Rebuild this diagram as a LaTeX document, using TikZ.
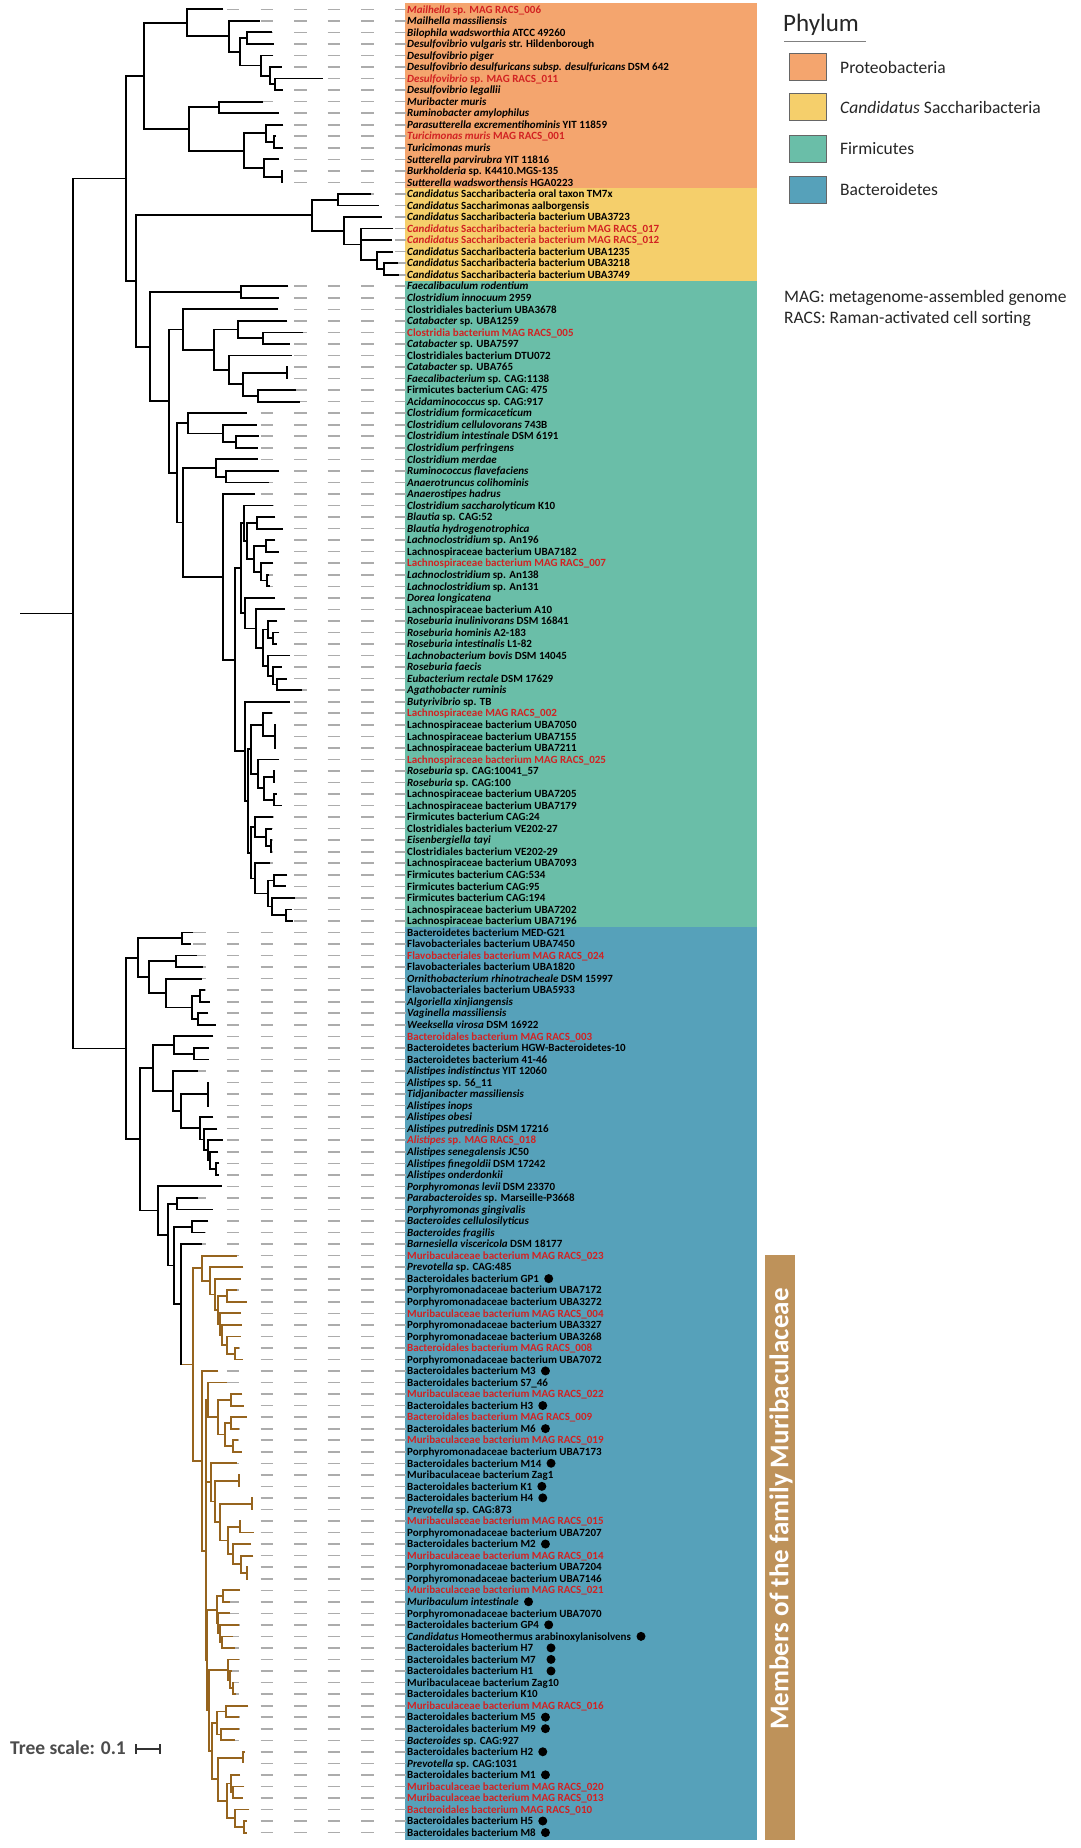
\documentclass[tikz,border=0pt]{standalone}
\usepackage{fontspec}
\setmainfont{Carlito}
\usetikzlibrary{calc}
\definecolor{orangeC}{RGB}{244,165,110}
\definecolor{yellowC}{RGB}{245,207,107}
\definecolor{greenC}{RGB}{106,190,168}
\definecolor{blueC}{RGB}{86,161,186}
\definecolor{barC}{RGB}{190,146,90}
\definecolor{brownBr}{RGB}{150,100,30}
\definecolor{labred}{RGB}{210,34,34}
\definecolor{dashgray}{RGB}{172,172,172}
\newcommand\gi[1]{\textit{#1}}
\newcommand\rd[1]{\textcolor{labred}{#1}}
\def\brc{black}
\tikzset{
  lab/.style={anchor=base west, inner sep=0pt, font=\fontsize{11}{12}\selectfont\bfseries, text=black},
  dsh/.style={draw=dashgray, line width=1.6pt, dash pattern=on 12.5pt off 21.1pt},
  br/.style={line width=1.8pt, draw=\brc, line join=miter},
  legtxt/.style={anchor=west, inner sep=0pt, font=\fontsize{17.5}{20}\selectfont, text=black!85}
}
\newcommand\leaf[3]{%
  \pgfmathsetmacro\yy{9.3+(#1-1)*11.54}%
  \coordinate (L#1) at (#2,\yy);%
  \pgfmathsetmacro\ph{mod(#2-193.3+336,33.6)}%
  \draw[dsh, dash phase=\ph pt] (L#1) -- (406,\yy);%
  \node[lab] (T#1) at (407,\yy+3.7) {#3};%
}
\newcommand\clade[4]{%
  \path let \p1=($(#3)!0.5!(#4)$) in coordinate (#1) at (#2pt,\y1);%
  \draw[br] (#3) -- (#1|-#3) -- (#1|-#4) -- (#4);%
}
\newcommand\cladeT[5]{%
  \path let \p1=($(#3)!0.5!(#5)$) in coordinate (#1) at (#2pt,\y1);%
  \draw[br] (#3) -- (#1|-#3) -- (#1|-#5) -- (#5);%
  \draw[br] (#1|-#4) -- (#4);%
}
\newcommand\dotT[1]{\fill ($(T#1.base east)+(9.5,-3.8)$) circle (4.5);}
\newcommand\dotX[2]{\fill let \p1=(T#1.base east) in (#2pt,\y1+3.8pt) circle (4.5);}
\begin{document}
\begin{tikzpicture}[x=1pt,y=-1pt]
\useasboundingbox (0,0) rectangle (1080,1848);
\fill[white] (0,0) rectangle (1080,1848);
% background bands
\fill[orangeC] (405,3) rectangle (757,188);
\fill[yellowC] (405,188) rectangle (757,280.5);
\fill[greenC] (405,280.5) rectangle (757,927);
\fill[blueC] (405,927) rectangle (757,1840);
\fill[barC] (765,1255) rectangle (795,1840);
\node[rotate=90, text=white, font=\fontsize{27}{30}\selectfont\bfseries, inner sep=0pt] (mtxt) at (781,1509) {Members of the family Muribaculaceae};
% legend
\node[anchor=west, inner sep=0pt, font=\fontsize{25}{28}\selectfont, text=black!85] (phy) at (783,25) {Phylum};
\draw[gray, line width=1.2pt] (784,41.5) -- (866,41.5);
\draw[fill=orangeC, draw=black!60, line width=1pt] (789,53) rectangle (826,80);
\draw[fill=yellowC, draw=black!60, line width=1pt] (789,93.5) rectangle (826,120.5);
\draw[fill=greenC, draw=black!60, line width=1pt] (789,135) rectangle (826,162);
\draw[fill=blueC, draw=black!60, line width=1pt] (789,176) rectangle (826,203);
\node[legtxt] (lg1) at (840,67) {Proteobacteria};
\node[legtxt] (lg2) at (840,107) {\textit{Candidatus} Saccharibacteria};
\node[legtxt] (lg3) at (840,148.5) {Firmicutes};
\node[legtxt] (lg4) at (840,189.5) {Bacteroidetes};
\node[legtxt] (mag) at (784,298) {MAG: metagenome-assembled genome};
\node[legtxt] (racs) at (784,318.5) {RACS: Raman-activated cell sorting};
% tree scale
\node[anchor=west, inner sep=0pt, font=\fontsize{19.5}{22}\selectfont\bfseries, text=black!70] (ts) at (10,1748) {Tree scale: 0.1};
\coordinate (sb1) at (136,1749);
\coordinate (sb2) at (160,1749);
\draw[line width=1.8pt, black!80] (sb1) -- (sb2);
\draw[line width=1.8pt, black!80] ($(sb1)+(0,-5)$) -- ($(sb1)+(0,5)$);
\draw[line width=1.8pt, black!80] ($(sb2)+(0,-5)$) -- ($(sb2)+(0,5)$);
% ---------------- leaves ----------------
\leaf{1}{223.3}{\rd{\gi{Mailhella} sp. MAG RACS\_006}}
\leaf{2}{260}{\gi{Mailhella massiliensis}}
\leaf{3}{271.7}{\gi{Bilophila wadsworthia} ATCC 49260}
\leaf{4}{274}{\gi{Desulfovibrio vulgaris} str. Hildenborough}
\leaf{5}{273.3}{\gi{Desulfovibrio piger}}
\leaf{6}{281.7}{\gi{Desulfovibrio desulfuricans subsp. desulfuricans} DSM 642}
\leaf{7}{322.7}{\rd{\gi{Desulfovibrio} sp. MAG RACS\_011}}
\leaf{8}{282.7}{\gi{Desulfovibrio legallii}}
\leaf{9}{263.3}{\gi{Muribacter muris}}
\leaf{10}{279.3}{\gi{Ruminobacter amylophilus}}
\leaf{11}{283.3}{\gi{Parasutterella excrementihominis} YIT 11859}
\leaf{12}{276}{\rd{\gi{Turicimonas muris} MAG RACS\_001}}
\leaf{13}{283.3}{\gi{Turicimonas muris}}
\leaf{14}{279.3}{\gi{Sutterella parvirubra} YIT 11816}
\leaf{15}{282.5}{\gi{Burkholderia} sp. K4410.MGS-135}
\leaf{16}{282.5}{\gi{Sutterella wadsworthensis} HGA0223}
\leaf{17}{371}{\gi{Candidatus} Saccharibacteria oral taxon TM7x}
\leaf{18}{379.3}{\gi{Candidatus} Saccharimonas aalborgensis}
\leaf{19}{381.7}{\gi{Candidatus} Saccharibacteria bacterium UBA3723}
\leaf{20}{393.3}{\rd{\gi{Candidatus} Saccharibacteria bacterium MAG RACS\_017}}
\leaf{21}{391.7}{\rd{\gi{Candidatus} Saccharibacteria bacterium MAG RACS\_012}}
\leaf{22}{393.3}{\gi{Candidatus} Saccharibacteria bacterium UBA1235}
\leaf{23}{398}{\gi{Candidatus} Saccharibacteria bacterium UBA3218}
\leaf{24}{399}{\gi{Candidatus} Saccharibacteria bacterium UBA3749}
\leaf{25}{288.3}{\gi{Faecalibaculum rodentium}}
\leaf{26}{279.3}{\gi{Clostridium innocuum} 2959}
\leaf{27}{278.3}{Clostridiales bacterium UBA3678}
\leaf{28}{287.3}{\gi{Catabacter} sp. UBA1259}
\leaf{29}{303.3}{\rd{Clostridia bacterium MAG RACS\_005}}
\leaf{30}{290}{\gi{Catabacter} sp. UBA7597}
\leaf{31}{291.7}{Clostridiales bacterium DTU072}
\leaf{32}{287.7}{\gi{Catabacter} sp. UBA765}
\leaf{33}{287.7}{\gi{Faecalibacterium} sp. CAG:1138}
\leaf{34}{296}{Firmicutes bacterium CAG: 475}
\leaf{35}{300}{\gi{Acidaminococcus} sp. CAG:917}
\leaf{36}{246.7}{\gi{Clostridium formicaceticum}}
\leaf{37}{256.7}{\gi{Clostridium cellulovorans} 743B}
\leaf{38}{259}{\gi{Clostridium intestinale} DSM 6191}
\leaf{39}{257.7}{\gi{Clostridium perfringens}}
\leaf{40}{257.7}{\gi{Clostridium merdae}}
\leaf{41}{279.3}{\gi{Ruminococcus flavefaciens}}
\leaf{42}{269.3}{\gi{Anaerotruncus colihominis}}
\leaf{43}{255}{\gi{Anaerostipes hadrus}}
\leaf{44}{272.7}{\gi{Clostridium saccharolyticum} K10}
\leaf{45}{275.3}{\gi{Blautia} sp. CAG:52}
\leaf{46}{282.7}{\gi{Blautia hydrogenotrophica}}
\leaf{47}{275.3}{\gi{Lachnoclostridium} sp. An196}
\leaf{48}{279.3}{Lachnospiraceae bacterium UBA7182}
\leaf{49}{273.3}{\rd{Lachnospiraceae bacterium MAG RACS\_007}}
\leaf{50}{269.3}{\gi{Lachnoclostridium} sp. An138}
\leaf{51}{270}{\gi{Lachnoclostridium} sp. An131}
\leaf{52}{275}{\gi{Dorea longicatena}}
\leaf{53}{285}{Lachnospiraceae bacterium A10}
\leaf{54}{277.3}{\gi{Roseburia inulinivorans} DSM 16841}
\leaf{55}{279.3}{\gi{Roseburia hominis} A2-183}
\leaf{56}{276.7}{\gi{Roseburia intestinalis} L1-82}
\leaf{57}{290}{\gi{Lachnobacterium bovis} DSM 14045}
\leaf{58}{281.7}{\gi{Roseburia faecis}}
\leaf{59}{286.7}{\gi{Eubacterium rectale} DSM 17629}
\leaf{60}{301.7}{\gi{Agathobacter ruminis}}
\leaf{61}{290}{\gi{Butyrivibrio} sp. TB}
\leaf{62}{271.7}{\rd{Lachnospiraceae MAG RACS\_002}}
\leaf{63}{276}{Lachnospiraceae bacterium UBA7050}
\leaf{64}{276}{Lachnospiraceae bacterium UBA7155}
\leaf{65}{276}{Lachnospiraceae bacterium UBA7211}
\leaf{66}{279.3}{\rd{Lachnospiraceae bacterium MAG RACS\_025}}
\leaf{67}{275}{\gi{Roseburia} sp. CAG:10041\_57}
\leaf{68}{275}{\gi{Roseburia} sp. CAG:100}
\leaf{69}{276.7}{Lachnospiraceae bacterium UBA7205}
\leaf{70}{281.7}{Lachnospiraceae bacterium UBA7179}
\leaf{71}{272.7}{Firmicutes bacterium CAG:24}
\leaf{72}{271.7}{Clostridiales bacterium VE202-27}
\leaf{73}{271.5}{\gi{Eisenbergiella tayi}}
\leaf{74}{271.5}{Clostridiales bacterium VE202-29}
\leaf{75}{270}{Lachnospiraceae bacterium UBA7093}
\leaf{76}{287.3}{Firmicutes bacterium CAG:534}
\leaf{77}{286}{Firmicutes bacterium CAG:95}
\leaf{78}{295}{Firmicutes bacterium CAG:194}
\leaf{79}{291.7}{Lachnospiraceae bacterium UBA7202}
\leaf{80}{293.3}{Lachnospiraceae bacterium UBA7196}
\leaf{81}{193.3}{Bacteroidetes bacterium MED-G21}
\leaf{82}{191}{Flavobacteriales bacterium UBA7450}
\leaf{83}{196.7}{\rd{Flavobacteriales bacterium MAG RACS\_024}}
\leaf{84}{203.3}{Flavobacteriales bacterium UBA1820}
\leaf{85}{201.7}{\gi{Ornithobacterium rhinotracheale} DSM 15997}
\leaf{86}{205}{Flavobacteriales bacterium UBA5933}
\leaf{87}{210}{\gi{Algoriella xinjiangensis}}
\leaf{88}{208.3}{\gi{Vaginella massiliensis}}
\leaf{89}{216}{\gi{Weeksella virosa} DSM 16922}
\leaf{90}{213.3}{\rd{Bacteroidales bacterium MAG RACS\_003}}
\leaf{91}{208.7}{Bacteroidetes bacterium HGW-Bacteroidetes-10}
\leaf{92}{208.7}{Bacteroidetes bacterium 41-46}
\leaf{93}{197.7}{\gi{Alistipes indistinctus} YIT 12060}
\leaf{94}{209}{\gi{Alistipes} sp. 56\_11}
\leaf{95}{209}{\gi{Tidjanibacter massiliensis}}
\leaf{96}{209}{\gi{Alistipes inops}}
\leaf{97}{213.3}{\gi{Alistipes obesi}}
\leaf{98}{217.3}{\gi{Alistipes putredinis} DSM 17216}
\leaf{99}{222.7}{\rd{\gi{Alistipes} sp. MAG RACS\_018}}
\leaf{100}{218.3}{\gi{Alistipes senegalensis} JC50}
\leaf{101}{219.3}{\gi{Alistipes finegoldii} DSM 17242}
\leaf{102}{219.3}{\gi{Alistipes onderdonkii}}
\leaf{103}{221.7}{\gi{Porphyromonas levii} DSM 23370}
\leaf{104}{198.3}{\gi{Parabacteroides} sp. Marseille-P3668}
\leaf{105}{213.3}{\gi{Porphyromonas gingivalis}}
\leaf{106}{208.3}{\gi{Bacteroides cellulosilyticus}}
\leaf{107}{205}{\gi{Bacteroides fragilis}}
\leaf{108}{201.7}{\gi{Barnesiella viscericola} DSM 18177}
\leaf{109}{236.7}{\rd{Muribaculaceae bacterium MAG RACS\_023}}
\leaf{110}{243.3}{\gi{Prevotella} sp. CAG:485}
\leaf{111}{240.7}{Bacteroidales bacterium GP1}
\leaf{112}{236.7}{Porphyromonadaceae bacterium UBA7172}
\leaf{113}{246.7}{Porphyromonadaceae bacterium UBA3272}
\leaf{114}{240.7}{\rd{Muribaculaceae bacterium MAG RACS\_004}}
\leaf{115}{241.7}{Porphyromonadaceae bacterium UBA3327}
\leaf{116}{240.7}{Porphyromonadaceae bacterium UBA3268}
\leaf{117}{239.3}{\rd{Bacteroidales bacterium MAG RACS\_008}}
\leaf{118}{243.3}{Porphyromonadaceae bacterium UBA7072}
\leaf{119}{218.3}{Bacteroidales bacterium M3}
\leaf{120}{226.7}{Bacteroidales bacterium S7\_46}
\leaf{121}{242.3}{\rd{Muribaculaceae bacterium MAG RACS\_022}}
\leaf{122}{244.3}{Bacteroidales bacterium H3}
\leaf{123}{246.7}{\rd{Bacteroidales bacterium MAG RACS\_009}}
\leaf{124}{239.3}{Bacteroidales bacterium M6}
\leaf{125}{238.3}{\rd{Muribaculaceae bacterium MAG RACS\_019}}
\leaf{126}{242.3}{Porphyromonadaceae bacterium UBA7173}
\leaf{127}{236.7}{Bacteroidales bacterium M14}
\leaf{128}{239.3}{Muribaculaceae bacterium Zag1}
\leaf{129}{239.3}{Bacteroidales bacterium K1}
\leaf{130}{252.3}{Bacteroidales bacterium H4}
\leaf{131}{252.3}{\gi{Prevotella} sp. CAG:873}
\leaf{132}{240.7}{\rd{Muribaculaceae bacterium MAG RACS\_015}}
\leaf{133}{254}{Porphyromonadaceae bacterium UBA7207}
\leaf{134}{251}{Bacteroidales bacterium M2}
\leaf{135}{253.3}{\rd{Muribaculaceae bacterium MAG RACS\_014}}
\leaf{136}{248}{Porphyromonadaceae bacterium UBA7204}
\leaf{137}{248}{Porphyromonadaceae bacterium UBA7146}
\leaf{138}{240}{\rd{Muribaculaceae bacterium MAG RACS\_021}}
\leaf{139}{230}{\gi{Muribaculum intestinale}}
\leaf{140}{230}{Porphyromonadaceae bacterium UBA7070}
\leaf{141}{239.3}{Bacteroidales bacterium GP4}
\leaf{142}{233.3}{\gi{Candidatus} Homeothermus arabinoxylanisolvens}
\leaf{143}{235}{Bacteroidales bacterium H7}
\leaf{144}{239.3}{Bacteroidales bacterium M7}
\leaf{145}{232}{Bacteroidales bacterium H1}
\leaf{146}{234}{Muribaculaceae bacterium Zag10}
\leaf{147}{236}{Bacteroidales bacterium K10}
\leaf{148}{248.3}{\rd{Muribaculaceae bacterium MAG RACS\_016}}
\leaf{149}{239.3}{Bacteroidales bacterium M5}
\leaf{150}{239.3}{Bacteroidales bacterium M9}
\leaf{151}{235}{\gi{Bacteroides} sp. CAG:927}
\leaf{152}{245}{Bacteroidales bacterium H2}
\leaf{153}{243.3}{\gi{Prevotella} sp. CAG:1031}
\leaf{154}{240}{Bacteroidales bacterium M1}
\leaf{155}{244.3}{\rd{Muribaculaceae bacterium MAG RACS\_020}}
\leaf{156}{243.3}{\rd{Muribaculaceae bacterium MAG RACS\_013}}
\leaf{157}{249.3}{\rd{Bacteroidales bacterium MAG RACS\_010}}
\leaf{158}{246.7}{Bacteroidales bacterium H5}
\leaf{159}{246.7}{Bacteroidales bacterium M8}
% dots
\dotT{111}\dotT{119}\dotT{122}\dotT{124}\dotT{127}\dotT{129}\dotT{130}
\dotT{134}\dotT{139}\dotT{141}\dotT{149}\dotT{150}\dotT{152}\dotT{154}
\dotT{158}\dotT{159}
\dotX{142}{641}\dotX{143}{551}\dotX{144}{551}\dotX{145}{551}
% ---------------- Proteobacteria ----------------
\clade{A5}{275.3}{L7}{L8}
\clade{A4}{270}{L6}{A5}
\clade{A3}{260.7}{L5}{A4}
\clade{A2b}{246.7}{L3}{L4}
\clade{A2}{240}{A2b}{A3}
\clade{A1}{229.3}{L2}{A2}
\clade{A}{186.7}{L1}{A1}
\clade{B1}{219}{L9}{L10}
\clade{B3}{274}{L12}{L13}
\clade{B2}{265.7}{L11}{B3}
\clade{B5}{281.7}{L15}{L16}
\clade{B4}{264}{L14}{B5}
\clade{B6}{244}{B2}{B4}
\clade{B}{189}{B1}{B6}
\clade{P}{144.3}{A}{B}
% ---------------- Saccharibacteria ----------------
\clade{S5}{384}{L23}{L24}
\clade{S4}{376.7}{L22}{S5}
\cladeT{S3}{360.7}{L20}{L21}{S4}
\clade{S2}{344.3}{L19}{S3}
\clade{S1}{337.7}{L17}{L18}
\clade{S0}{311.7}{S1}{S2}
% ---------------- Firmicutes ----------------
\clade{F1}{241}{L25}{L26}
\clade{C3b}{263.3}{L29}{L30}
\clade{C3}{237.7}{L28}{C3b}
\clade{C6}{286.7}{L32}{L33}
\clade{C7}{257.7}{L34}{L35}
\clade{C5}{243.3}{C6}{C7}
\clade{C4}{229.3}{L31}{C5}
\clade{C2}{214.3}{C3}{C4}
\clade{C1}{182.7}{L27}{C2}
\clade{D1c}{236}{L38}{L39}
\clade{D1b}{222.7}{L37}{D1c}
\clade{D1}{188.3}{L36}{D1b}
\clade{D3b}{226}{L41}{L42}
\clade{D3}{216}{L40}{D3b}
\clade{E4}{257.3}{L45}{L46}
\clade{E6}{265.7}{L47}{L48}
\clade{E7b}{266.7}{L50}{L51}
\clade{E7}{260.7}{L49}{E7b}
\clade{E5}{254}{E6}{E7}
\clade{E3}{247.3}{E4}{E5}
\clade{E2}{244}{L44}{E3}
\clade{E12}{272.7}{L55}{L56}
\clade{E11}{268.3}{L54}{E12}
\clade{E15}{276.7}{L59}{L60}
\clade{E14}{273.3}{L58}{E15}
\clade{E13}{268.3}{L57}{E14}
\clade{E10}{263.3}{E11}{E13}
\clade{E9}{255.7}{L53}{E10}
\clade{E8}{245}{L52}{E9}
\clade{E1}{240.7}{E2}{E8}
\cladeT{G4}{275}{L63}{L64}{L65}
\clade{G3}{263.3}{L62}{G4}
\clade{G6a}{274}{L67}{L68}
\clade{G6b}{274}{L69}{L70}
\clade{G6}{264.3}{G6a}{G6b}
\clade{G5}{258.3}{L66}{G6}
\clade{G2}{250.7}{G3}{G5}
\clade{G10}{270.7}{L73}{L74}
\clade{G9}{266}{L72}{G10}
\clade{G8}{255}{L71}{G9}
\clade{G13}{274}{L76}{L77}
\clade{G15}{286}{L79}{L80}
\clade{G14}{271.7}{L78}{G15}
\clade{G12}{268.3}{G13}{G14}
\clade{G11}{255}{L75}{G12}
\clade{G7}{250.7}{G8}{G11}
\clade{G1}{248.3}{G2}{G7}
\clade{G0}{245}{L61}{G1}
\clade{E0}{235}{E1}{G0}
\clade{D4}{222.7}{L43}{E0}
\clade{D2}{183.3}{D3}{D4}
\clade{F3}{176.7}{D1}{D2}
\clade{F2}{169.3}{C1}{F3}
\clade{Fm}{150}{F1}{F2}
\clade{N2}{136}{S0}{Fm}
\clade{N1}{126}{P}{N2}
% ---------------- Bacteroidetes ----------------
\clade{H2}{181.7}{L81}{L82}
\clade{H4}{175.7}{L83}{L84}
\clade{H7}{200}{L86}{L87}
\clade{H8}{198.3}{L88}{L89}
\clade{H6}{191.7}{H7}{H8}
\clade{H5a}{166}{L85}{H6}
\clade{H3}{149.3}{H4}{H5a}
\clade{H1}{138.3}{H2}{H3}
\clade{I3}{194.3}{L91}{L92}
\clade{I2}{174}{L90}{I3}
\cladeT{I6}{208.3}{L94}{L95}{L96}
\clade{I11}{216}{L101}{L102}
\clade{I10}{210}{L100}{I11}
\clade{I9}{208.3}{L99}{I10}
\clade{I8}{204}{L98}{I9}
\clade{I7}{200}{L97}{I8}
\clade{I5}{181}{I6}{I7}
\clade{I4}{173.3}{L93}{I5}
\clade{I1}{153.3}{I2}{I4}
\clade{J2}{176.7}{L104}{L105}
\clade{J4}{191.7}{L106}{L107}
% Muribaculaceae (brown)
\def\brc{brownBr}
\clade{M9}{235}{L117}{L118}
\clade{M8}{226.7}{L116}{M9}
\clade{M7}{221.7}{L115}{M8}
\clade{M6}{220}{L114}{M7}
\clade{M5}{226.7}{L112}{L113}
\clade{M4}{218.3}{M5}{M6}
\clade{M3}{215}{L111}{M4}
\clade{M2}{210}{L110}{M3}
\clade{M1}{202.3}{L109}{M2}
\clade{Q3}{231}{L121}{L122}
\clade{Q4a}{231}{L123}{L124}
\clade{Q4b}{232.7}{L125}{L126}
\clade{Q4}{225}{Q4a}{Q4b}
\clade{Q2}{218.3}{Q3}{Q4}
\clade{Q1}{208.3}{L120}{Q2}
\clade{Q7}{238.7}{L128}{L129}
\clade{Q9}{251.7}{L130}{L131}
\clade{Q11}{240}{L132}{L133}
\clade{Q14}{247.3}{L136}{L137}
\clade{Q13}{240.7}{L135}{Q14}
\clade{Q12}{232.7}{L134}{Q13}
\clade{Q10}{228.3}{Q11}{Q12}
\clade{Q8}{220}{Q9}{Q10}
\clade{Q6}{215}{Q7}{Q8}
\clade{Q5}{210.7}{L127}{Q6}
\clade{N1a}{206}{Q1}{Q5}
\clade{R1}{223.3}{L138}{L139}
\clade{R4}{221.7}{L142}{L143}
\clade{R3}{220}{L141}{R4}
\clade{R2}{218.3}{L140}{R3}
\clade{R0}{216.7}{R1}{R2}
\clade{T3}{233.3}{L146}{L147}
\clade{T2}{230}{L145}{T3}
\clade{T1}{228.3}{L144}{T2}
\clade{U2}{226}{L148}{L149}
\clade{U3}{221}{L150}{L151}
\clade{U1}{217.3}{U2}{U3}
\clade{U5}{243.3}{L152}{L153}
\clade{U8}{232.7}{L155}{L156}
\clade{U7}{231}{L154}{U8}
\clade{U10}{244.3}{L158}{L159}
\clade{U9}{235}{L157}{U10}
\clade{U6}{226.7}{U7}{U9}
\clade{U4}{218.3}{U5}{U6}
\clade{U0}{211.7}{U1}{U4}
\clade{P1}{209.3}{T1}{U0}
\clade{P2}{206.7}{R0}{P1}
\clade{N0}{206}{N1a}{P2}
\clade{M10}{202.3}{L119}{N0}
\clade{M0}{193.3}{M1}{M10}
\def\brc{black}
\clade{J5}{180.7}{L108}{M0}
\draw[br, draw=brownBr] ($(J5|-M0)+(1,0)$) -- (M0);
\clade{J3}{174}{J4}{J5}
\clade{J1}{168.3}{J2}{J3}
\clade{J0}{158.3}{L103}{J1}
\clade{H5}{140}{I1}{J0}
\clade{Bc}{126}{H1}{H5}
% root
\clade{R}{72.7}{N1}{Bc}
\path let \p1=(R) in coordinate (root0) at (20pt,\y1);
\draw[br] (root0) -- (R);
\end{tikzpicture}
\end{document}
